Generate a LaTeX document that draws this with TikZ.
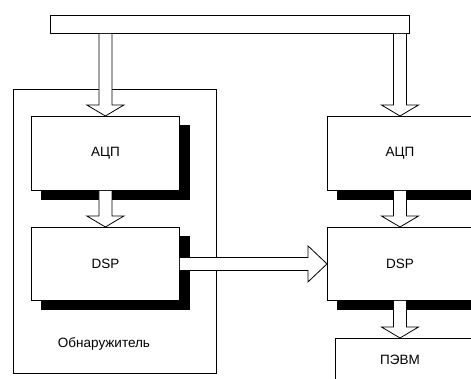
\documentclass[tikz,border=0pt]{standalone}
\usepackage{fontspec}
\setmainfont{Liberation Sans}
\usetikzlibrary{calc,backgrounds}

% vertical block arrow: #1 start point, #2 tip point (same x)
\newcommand\vblockarrow[2]{%
  \draw[blockarrow] let \p1=(#1), \p2=(#2) in
    (\x1-6.5pt,\y1) -- (\x1-6.5pt,\y2+11pt) -- (\x1-18.5pt,\y2+11pt) --
    (\x1,\y2) -- (\x1+18.5pt,\y2+11pt) -- (\x1+6.5pt,\y2+11pt) -- (\x1+6.5pt,\y1);}
% horizontal block arrow: #1 start point, #2 tip point (same y)
\newcommand\hblockarrow[2]{%
  \draw[blockarrow] let \p1=(#1), \p2=(#2) in
    (\x1,\y1+6.5pt) -- (\x2-19pt,\y1+6.5pt) -- (\x2-19pt,\y1+18pt) --
    (\x2,\y1) -- (\x2-19pt,\y1-18pt) -- (\x2-19pt,\y1-6.5pt) -- (\x1,\y1-6.5pt);}
% solid black shadow offset to the lower right of a block
\newcommand\blockshadow[1]{%
  \fill[black] ($(#1.north west)+(10,9)$) rectangle ($(#1.south east)+(10,9)$);}

\begin{document}
\begin{tikzpicture}[x=1pt,y=-1pt,
  line/.style={draw=black,line width=0.8pt},
  box/.style={line,fill=white,rectangle,inner sep=0pt,anchor=north west,
    font=\fontsize{13.5}{16}\selectfont},
  blockarrow/.style={line,fill=white,line join=miter},
  lbl/.style={font=\fontsize{13.5}{16}\selectfont,inner sep=0pt}]
\useasboundingbox (0,0) rectangle (471,378);
\clip (0,0) rectangle (471,378);
\coordinate (rcol) at (400,0);

% processing blocks
\node[box,minimum width=148pt,minimum height=74pt] (adcL) at (31,116) {АЦП};
\node[box,minimum width=148pt,minimum height=73pt] (dspL) at (31,227) {DSP};
\node[box,minimum width=160pt,minimum height=74pt] (adcR) at (327,116) {};
\node[box,minimum width=160pt,minimum height=73pt] (dspR) at (327,227) {};
\node[box,minimum width=160pt,minimum height=60pt] (pevm) at (335,338) {};

% enclosure, bus and shadows underneath the blocks
\begin{pgfonlayer}{background}
  \node[box,minimum width=203pt,minimum height=284pt] (det) at (13,89) {};
  \node[box,minimum width=359pt,minimum height=18pt] (bus) at (50,15) {};
  \blockshadow{adcL}
  \blockshadow{dspL}
  \blockshadow{adcR}
  \blockshadow{dspR}
\end{pgfonlayer}

% labels
\node[lbl] (adcRtext) at (adcR.center -| rcol) {АЦП};
\node[lbl] (dspRtext) at (dspR.center -| rcol) {DSP};
\node[lbl] (pevmtext) at ($(pevm.north -| rcol)+(0,22)$) {ПЭВМ};
\node[lbl] (detlabel) at ($(det.south west)+(91,-30)$) {Обнаружитель};

% block arrows
\vblockarrow{bus.south -| adcL.north}{adcL.north}
\vblockarrow{bus.south -| rcol}{adcR.north -| rcol}
\vblockarrow{adcL.south}{dspL.north}
\vblockarrow{adcR.south -| rcol}{dspR.north -| rcol}
\vblockarrow{dspR.south -| rcol}{pevm.north -| rcol}
\hblockarrow{dspL.east}{dspR.west}
\end{tikzpicture}
\end{document}
